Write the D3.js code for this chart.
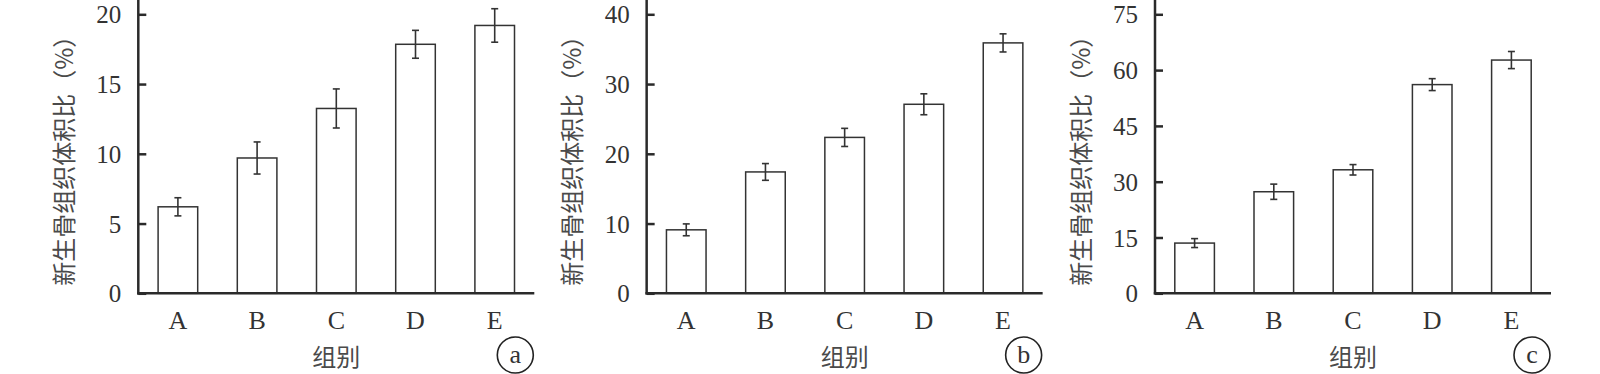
<!DOCTYPE html>
<html lang="zh">
<head>
    <meta charset="UTF-8">
    <title>新生骨组织体积比</title>
    <script src="https://cdnjs.cloudflare.com/ajax/libs/d3/7.8.5/d3.min.js"></script>
    <style>
        body {
            margin: 0;
            background: #fff;
        }
        svg {
            display: block;
        }
        .tick text {
            font-family: "Liberation Serif", "DejaVu Serif", serif;
            font-size: 25px;
            fill: #333;
        }
        .x-axis .tick text {
            font-size: 26px;
        }
        .cjk {
            font-family: "Noto Sans CJK SC", sans-serif;
            fill: #4a4a4a;
        }
    </style>
</head>
<body>
    <svg id="chart" width="1600" height="374"></svg>

    <script>
        // groups on the x axis
        const groups = ["A", "B", "C", "D", "E"];

        // panel a
        const valuesA = [6.2, 9.7, 13.25, 17.85, 19.2];
        const errorsA = [0.65, 1.15, 1.4, 1.0, 1.2];
        const ticksA = [0, 5, 10, 15, 20];

        // panel b
        const valuesB = [9.1, 17.4, 22.35, 27.1, 35.9];
        const errorsB = [0.85, 1.2, 1.3, 1.5, 1.3];
        const ticksB = [0, 10, 20, 30, 40];

        // panel c
        const valuesC = [13.5, 27.3, 33.2, 56.1, 62.7];
        const errorsC = [1.2, 2.05, 1.4, 1.6, 2.3];
        const ticksC = [0, 15, 30, 45, 60, 75];

        const panelTags = ["a", "b", "c"];
        const yTitle = "新生骨组织体积比（%）";
        const xTitle = "组别";

        const panels = [
            { values: valuesA, errors: errorsA, ticks: ticksA, tag: panelTags[0] },
            { values: valuesB, errors: errorsB, ticks: ticksB, tag: panelTags[1] },
            { values: valuesC, errors: errorsC, ticks: ticksC, tag: panelTags[2] }
        ];

        const svg = d3.select("#chart");
        const plotW = 396;
        const baseY = 293.3;
        const topY = 14.3;
        const dark = "#2a2a2a";

        panels.forEach((p, i) => {
            const g = svg.append("g")
                .attr("transform", `translate(${138.3 + i * 508.35},0)`);

            const x = d3.scaleBand()
                .domain(groups)
                .range([0, plotW])
                .paddingInner(0.5)
                .paddingOuter(0.25);

            const yMax = d3.max(p.ticks);
            const y = d3.scaleLinear()
                .domain([0, yMax])
                .range([baseY, topY]);

            // bars
            g.selectAll("rect.bar")
                .data(p.values)
                .join("rect")
                .attr("class", "bar")
                .attr("x", (d, j) => x(groups[j]))
                .attr("y", d => y(d))
                .attr("width", x.bandwidth())
                .attr("height", d => y(0) - y(d))
                .attr("fill", "#fff")
                .attr("stroke", "#333")
                .attr("stroke-width", 1.5);

            // error bars
            const eb = g.selectAll("g.err")
                .data(p.values)
                .join("g")
                .attr("class", "err")
                .attr("transform", (d, j) => `translate(${x(groups[j]) + x.bandwidth() / 2},0)`)
                .attr("stroke", "#333")
                .attr("stroke-width", 1.6);

            eb.append("line")
                .attr("y1", (d, j) => y(d + p.errors[j]))
                .attr("y2", (d, j) => y(d - p.errors[j]));
            eb.append("line")
                .attr("x1", -3.5).attr("x2", 3.5)
                .attr("y1", (d, j) => y(d + p.errors[j]))
                .attr("y2", (d, j) => y(d + p.errors[j]));
            eb.append("line")
                .attr("x1", -3.5).attr("x2", 3.5)
                .attr("y1", (d, j) => y(d - p.errors[j]))
                .attr("y2", (d, j) => y(d - p.errors[j]));

            // y axis, ticks pointing inward
            const yAxis = g.append("g")
                .call(d3.axisLeft(y)
                    .tickValues(p.ticks)
                    .tickSizeInner(-8)
                    .tickSizeOuter(0)
                    .tickPadding(17));
            yAxis.select(".domain").remove();
            yAxis.selectAll(".tick line")
                .attr("stroke", dark)
                .attr("stroke-width", 2.5);
            yAxis.selectAll(".tick text")
                .attr("dy", "0.34em");

            g.append("line")
                .attr("x1", 0).attr("x2", 0)
                .attr("y1", y(0) + 1.2).attr("y2", -2)
                .attr("stroke", dark)
                .attr("stroke-width", 2.5);

            // x axis
            const xAxis = g.append("g")
                .attr("class", "x-axis")
                .attr("transform", `translate(0,${baseY})`)
                .call(d3.axisBottom(x).tickSize(0).tickPadding(17));
            xAxis.select(".domain").remove();

            g.append("line")
                .attr("x1", -1.2).attr("x2", plotW)
                .attr("y1", baseY).attr("y2", baseY)
                .attr("stroke", dark)
                .attr("stroke-width", 2.5);

            // axis titles
            g.append("text")
                .attr("class", "cjk")
                .attr("transform", `translate(-76,${(baseY + topY) / 2 + 1}) rotate(-90)`)
                .attr("text-anchor", "middle")
                .attr("dominant-baseline", "central")
                .attr("font-size", 24)
                .text(yTitle);

            g.append("text")
                .attr("class", "cjk")
                .attr("x", x("C") + x.bandwidth() / 2)
                .attr("y", 366)
                .attr("text-anchor", "middle")
                .attr("font-size", 24)
                .text(xTitle);

            // circled panel tag
            const tagX = plotW - 19;
            g.append("circle")
                .attr("cx", tagX)
                .attr("cy", 355)
                .attr("r", 18)
                .attr("fill", "none")
                .attr("stroke", "#222")
                .attr("stroke-width", 1.6);
            g.append("text")
                .attr("x", tagX)
                .attr("y", 354)
                .attr("text-anchor", "middle")
                .attr("dominant-baseline", "central")
                .attr("font-family", "Liberation Serif, serif")
                .attr("font-size", 26)
                .attr("fill", "#333")
                .text(p.tag);
        });
    </script>
</body>
</html>
